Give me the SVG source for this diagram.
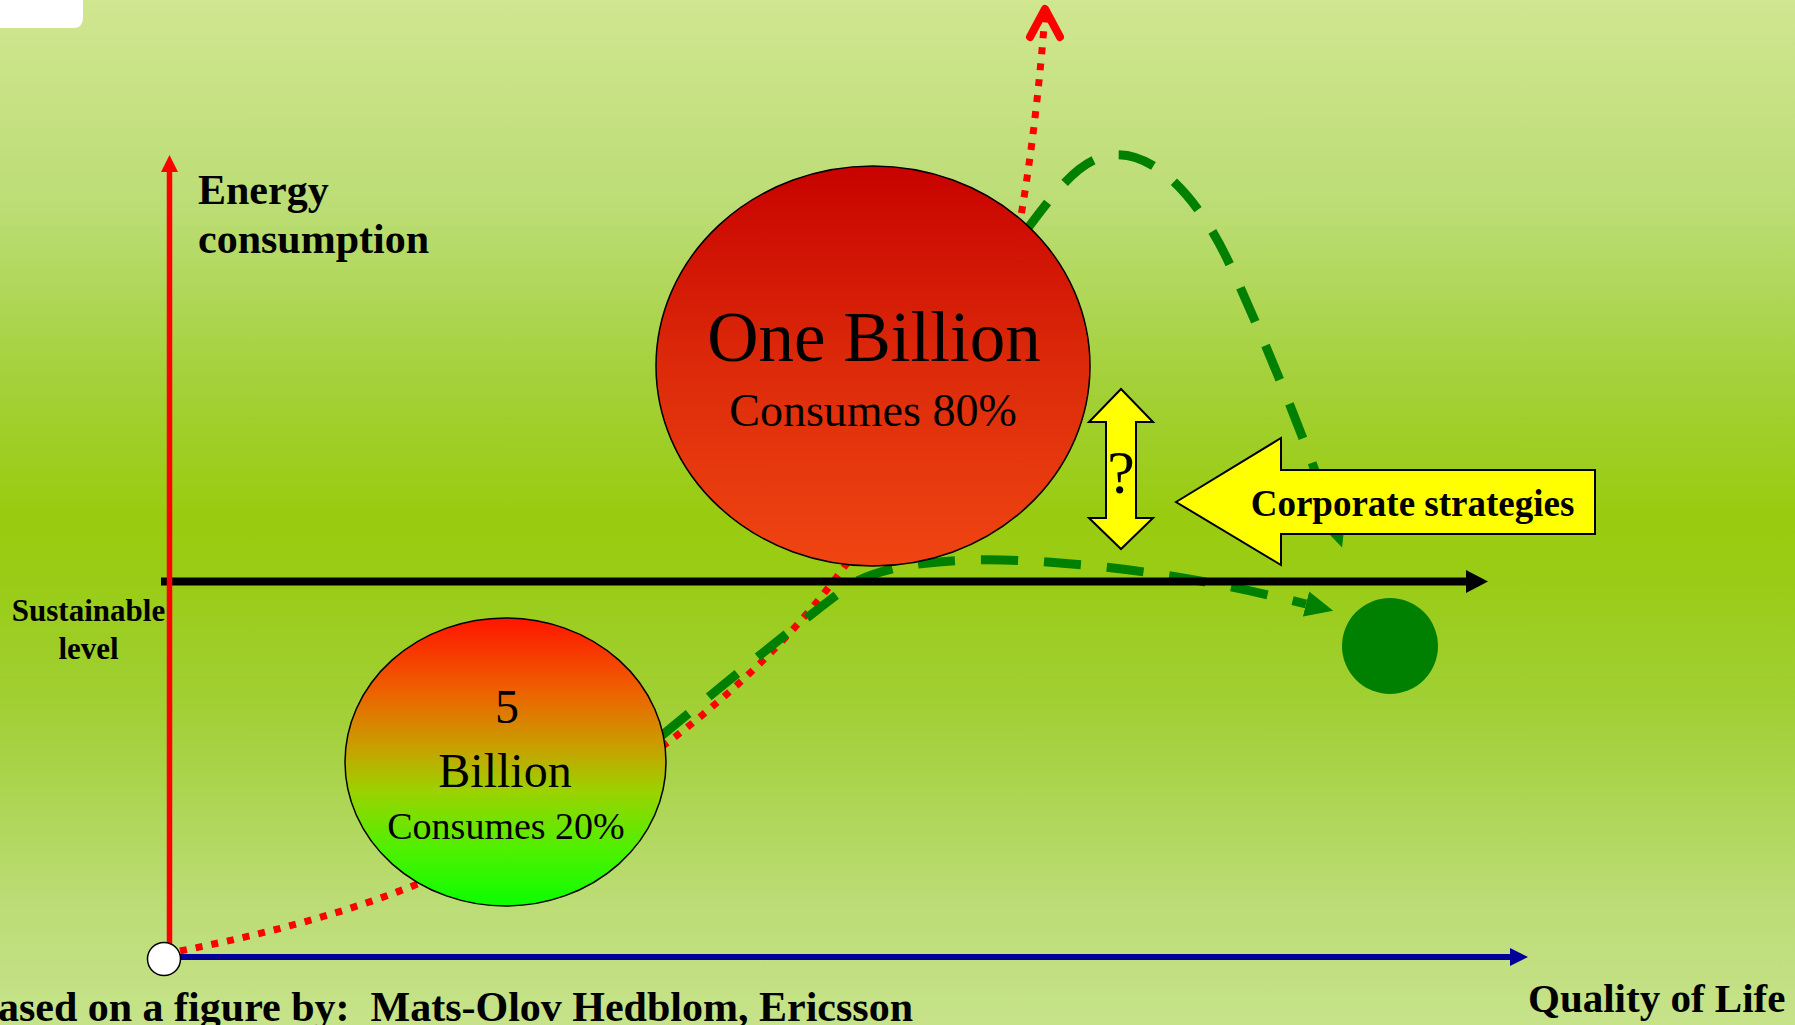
<svg xmlns="http://www.w3.org/2000/svg" width="1795" height="1025" viewBox="0 0 1795 1025">
<defs>
<linearGradient id="bg" x1="0" y1="0" x2="0" y2="1">
<stop offset="0" stop-color="#d0e690"/>
<stop offset="0.2" stop-color="#bcdd76"/>
<stop offset="0.37" stop-color="#a4d13a"/>
<stop offset="0.5" stop-color="#99cc10"/>
<stop offset="0.56" stop-color="#99cc14"/>
<stop offset="0.7" stop-color="#a2d038"/>
<stop offset="0.88" stop-color="#bcdc76"/>
<stop offset="1" stop-color="#c6e38a"/>
</linearGradient>
<linearGradient id="gBig" x1="0" y1="0" x2="0" y2="1">
<stop offset="0" stop-color="#c80200"/>
<stop offset="0.5" stop-color="#dc2a0a"/>
<stop offset="1" stop-color="#f04512"/>
</linearGradient>
<linearGradient id="gSmall" x1="0" y1="0" x2="0" y2="1">
<stop offset="0" stop-color="#ff1500"/>
<stop offset="0.25" stop-color="#ee6000"/>
<stop offset="0.45" stop-color="#c8a000"/>
<stop offset="0.6" stop-color="#9cd200"/>
<stop offset="0.8" stop-color="#50f000"/>
<stop offset="1" stop-color="#0aff00"/>
</linearGradient>
<marker id="gArrow" markerUnits="userSpaceOnUse" markerWidth="30" markerHeight="28" refX="0" refY="13" orient="auto" viewBox="0 0 30 26">
<path d="M0,0 L28,13 L0,26 z" fill="#008000"/>
</marker>
<style>
.serif{font-family:"Liberation Serif","Times New Roman",serif;fill:#000}
.b{font-weight:bold}
.mid{text-anchor:middle}
.dot{fill:none;stroke:#ff0000;stroke-width:7;stroke-dasharray:7 9}
.dash{fill:none;stroke:#008000;stroke-width:9;stroke-dasharray:37 26}
.yel{fill:#ffff00;stroke:#000;stroke-width:2;stroke-linejoin:miter}
</style>
</defs>
<rect x="0" y="0" width="1795" height="1025" fill="url(#bg)"/>
<path d="M0,0 H83 V18 Q83,28 73,28 H0 Z" fill="#ffffff"/>

<g id="connectors">
<path id="red-growth" class="dot" d="M180,951 C260,935 340,915 415,885 C500,850 590,800 667,743 C730,695 790,640 842,570 C930,450 1000,330 1022,210 C1032,150 1040,80 1045,14"/>
<polyline points="1030,37 1045,9 1060,37" fill="none" stroke="#ff0000" stroke-width="8" stroke-linecap="round" stroke-linejoin="round"/>
<path id="green-sustainable" class="dash" d="M660,737 C735,675 800,622 850,585 C900,555 1000,558 1060,563 C1160,570 1250,590 1306,604" marker-end="url(#gArrow)"/>
<path id="green-overshoot" class="dash" d="M1025,232 C1060,185 1082,158 1112,155 C1155,150 1200,200 1230,265 C1260,330 1300,425 1333,521" marker-end="url(#gArrow)"/>
<g id="sustainable-line">
<line x1="161" y1="581.5" x2="1468" y2="581.5" stroke="#000" stroke-width="8"/>
<polygon points="1466,570 1488,581.5 1466,593" fill="#000"/>
</g>
<g id="x-axis">
<line x1="164" y1="957" x2="1512" y2="957" stroke="#000099" stroke-width="6"/>
<polygon points="1510,948 1528,957 1510,966" fill="#000099"/>
</g>
<g id="y-axis">
<line x1="169.5" y1="960" x2="169.5" y2="170" stroke="#ff0000" stroke-width="5.5"/>
<polygon points="161,172 169.5,155 178,172" fill="#ff0000"/>
</g>
</g>

<g id="origin">
<circle cx="164" cy="959" r="16.5" fill="#ffffff" stroke="#000" stroke-width="1.5"/>
</g>

<g id="node-one-billion">
<ellipse cx="873" cy="366" rx="217" ry="200" fill="url(#gBig)" stroke="#000" stroke-width="1.5"/>
<text class="serif mid" x="874" y="361" font-size="71">One Billion</text>
<text class="serif mid" x="873" y="426" font-size="46">Consumes 80%</text>
</g>

<g id="node-five-billion">
<ellipse cx="505.5" cy="762" rx="160.5" ry="144" fill="url(#gSmall)" stroke="#000" stroke-width="1.5"/>
<text class="serif mid" x="507" y="723" font-size="48">5</text>
<text class="serif mid" x="505" y="787" font-size="48">Billion</text>
<text class="serif mid" x="506" y="839" font-size="38">Consumes 20%</text>
</g>

<g id="node-target">
<circle cx="1390" cy="646" r="48" fill="#008000"/>
</g>

<g id="node-question">
<polygon class="yel" points="1121,389 1153,422 1136,422 1136,518 1153,518 1121,549 1089,518 1106,518 1106,422 1089,422"/>
<text class="serif mid" x="1121" y="493" font-size="62">?</text>
</g>

<g id="node-corporate">
<polygon class="yel" points="1176,502 1281,438 1281,470 1595,470 1595,534 1281,534 1281,565"/>
<text class="serif b mid" x="1412.5" y="516" font-size="37">Corporate strategies</text>
</g>

<g id="labels">
<text class="serif b" x="198" y="204" font-size="42">Energy</text>
<text class="serif b" x="198" y="253" font-size="42">consumption</text>
<text class="serif b mid" x="88.5" y="621" font-size="31">Sustainable</text>
<text class="serif b mid" x="88.5" y="659" font-size="31">level</text>
<text class="serif b" x="1528" y="1012" font-size="41">Quality of Life</text>
<text class="serif b" x="913" y="1021" font-size="42" text-anchor="end" xml:space="preserve">Based on a figure by:  Mats-Olov Hedblom, Ericsson</text>
</g>
</svg>
